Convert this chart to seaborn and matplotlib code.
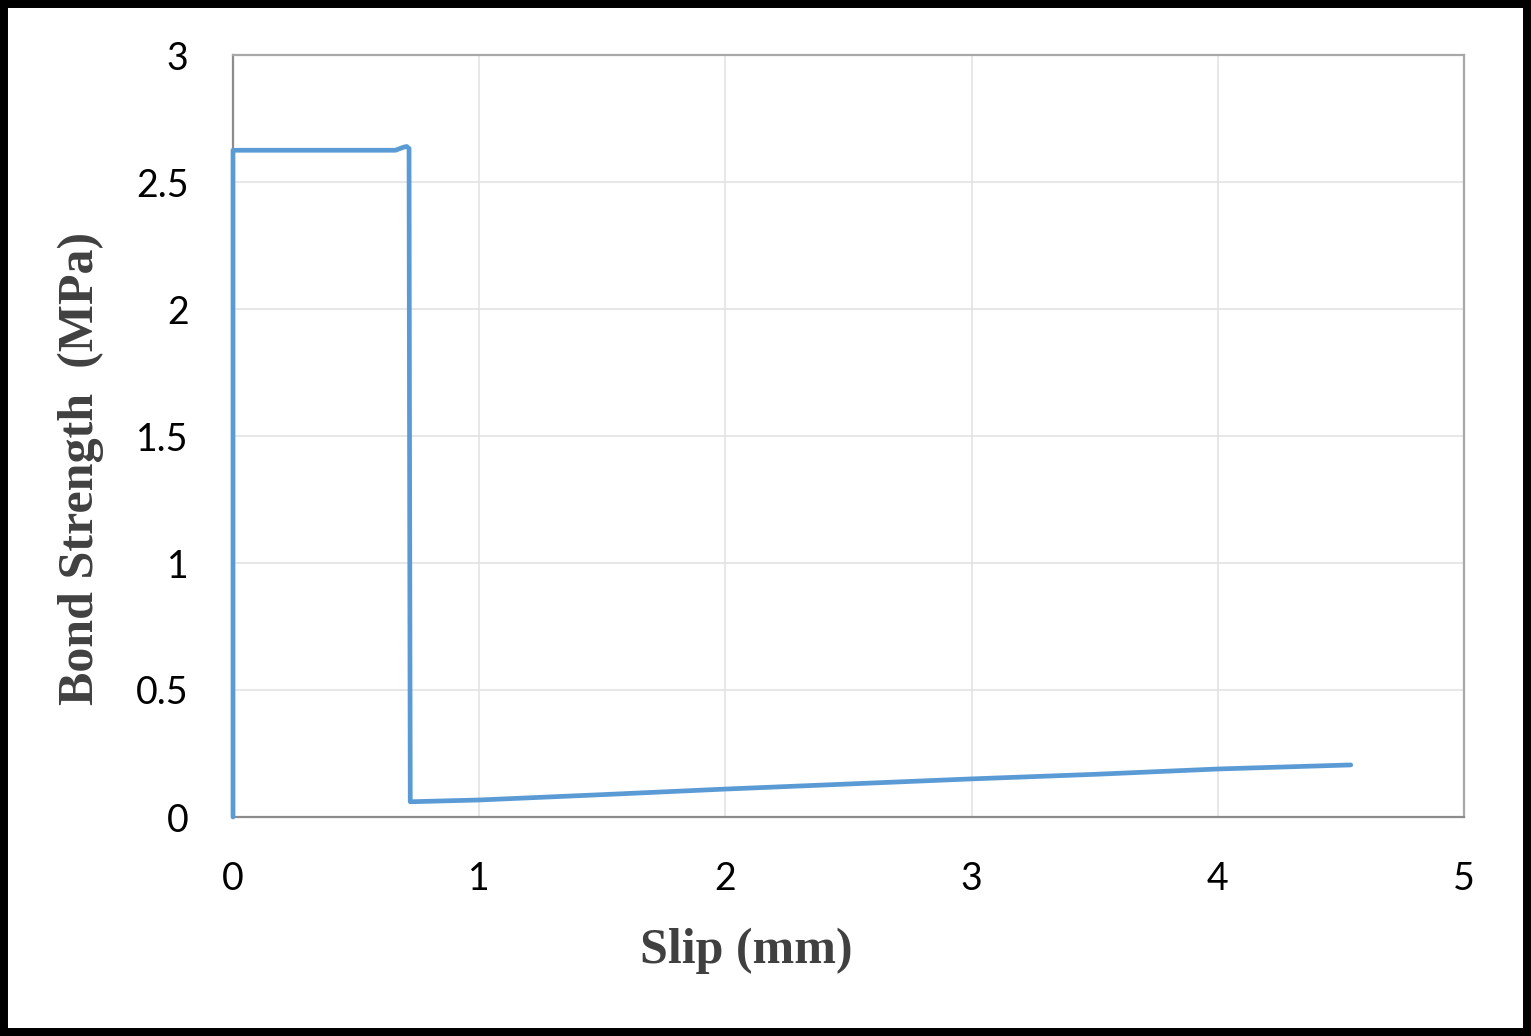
import numpy as np
import pandas as pd
import matplotlib
matplotlib.use("Agg")
import matplotlib.pyplot as plt
import seaborn as sns
from matplotlib.patches import Rectangle

# curva tensao de aderencia x deslizamento
slip = [0.0, 0.0, 0.30, 0.66, 0.69, 0.705, 0.715, 0.717, 0.72,
        1.0, 1.5, 2.0, 2.5, 3.0, 3.5, 4.0, 4.54]
strength = [0.0, 2.625, 2.625, 2.625, 2.636, 2.640, 2.632, 1.50, 0.060,
            0.067, 0.088, 0.110, 0.130, 0.150, 0.168, 0.189, 0.205]

x_ticks = [0, 1, 2, 3, 4, 5]
y_ticks = [0, 0.5, 1, 1.5, 2, 2.5, 3]
y_tick_labels = ["0", "0.5", "1", "1.5", "2", "2.5", "3"]

sns.set_style("white")
plt.rcParams["font.family"] = ["Lato", "DejaVu Sans"]

fig = plt.figure(figsize=(15.31, 10.36), dpi=100)
ax = fig.add_axes([233 / 1531, 1 - 817 / 1036, (1464 - 233) / 1531, (817 - 55) / 1036])

df = pd.DataFrame({"slip": slip, "strength": strength})
sns.lineplot(data=df, x="slip", y="strength", sort=False, estimator=None,
             color="#5B9BD5", linewidth=3.4, ax=ax, clip_on=False, zorder=5,
             solid_joinstyle="round", solid_capstyle="round")

ax.set_xlim(0, 5)
ax.set_ylim(0, 3)
ax.set_xticks(x_ticks)
ax.set_yticks(y_ticks)
ax.set_yticklabels(y_tick_labels)
ax.grid(True, color="#e3e3e3", linewidth=1.2)
ax.set_axisbelow(True)

for s in ["left", "bottom"]:
    ax.spines[s].set_color("#8c8c8c")
    ax.spines[s].set_linewidth(1.6)
for s in ["top", "right"]:
    ax.spines[s].set_color("#a8a8a8")
    ax.spines[s].set_linewidth(1.6)

ax.tick_params(axis="both", direction="out", length=10, width=1.6,
               color="#8c8c8c", labelsize=27, labelcolor="black")
ax.tick_params(axis="x", pad=22)
ax.tick_params(axis="y", pad=22)

lab_font = dict(family="Liberation Serif", weight="bold", size=36, color="#404040")
ax.set_xlabel("Slip (mm)", va="center", **lab_font)
ax.set_ylabel("Bond Strength  (MPa)", va="center", **lab_font)
ax.xaxis.set_label_coords(0.4167, -0.175)
ax.yaxis.set_label_coords(-0.1235, 0.458)

# moldura preta
fig.patches.append(Rectangle((0, 0), 1, 1, transform=fig.transFigure, fill=False,
                             edgecolor="black", linewidth=11.5, zorder=10))

fig.savefig("out.png", dpi=100)
